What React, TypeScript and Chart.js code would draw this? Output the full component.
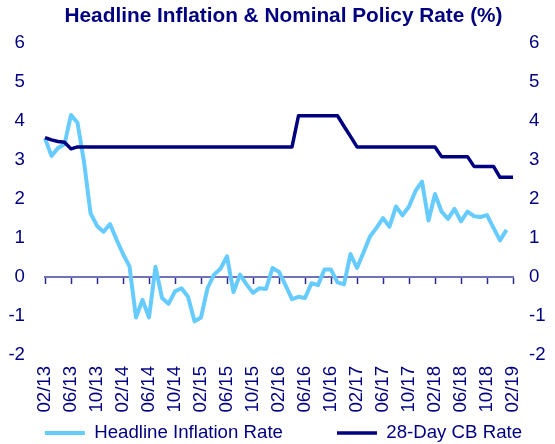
import React, { useEffect, useRef } from "react";
import { Chart, registerables } from "chart.js";

Chart.register(...registerables);

const months: string[] = [
  "02/13", "03/13", "04/13", "05/13", "06/13", "07/13", "08/13", "09/13", "10/13", "11/13", "12/13",
  "01/14", "02/14", "03/14", "04/14", "05/14", "06/14", "07/14", "08/14", "09/14", "10/14", "11/14", "12/14",
  "01/15", "02/15", "03/15", "04/15", "05/15", "06/15", "07/15", "08/15", "09/15", "10/15", "11/15", "12/15",
  "01/16", "02/16", "03/16", "04/16", "05/16", "06/16", "07/16", "08/16", "09/16", "10/16", "11/16", "12/16",
  "01/17", "02/17", "03/17", "04/17", "05/17", "06/17", "07/17", "08/17", "09/17", "10/17", "11/17", "12/17",
  "01/18", "02/18", "03/18", "04/18", "05/18", "06/18", "07/18", "08/18", "09/18", "10/18", "11/18", "12/18",
  "01/19", "02/19",
];

const inflation: number[] = [
  3.55, 3.1, 3.3, 3.4, 4.15, 3.95, 2.95, 1.63, 1.3, 1.15,
  1.35, 0.95, 0.58, 0.26, -1.05, -0.6, -1.05, 0.25, -0.55, -0.7,
  -0.38, -0.3, -0.52, -1.15, -1.05, -0.3, 0.05, 0.2, 0.52, -0.4,
  0.05, -0.2, -0.42, -0.3, -0.32, 0.22, 0.12, -0.22, -0.58, -0.52,
  -0.55, -0.17, -0.22, 0.18, 0.18, -0.15, -0.2, 0.58, 0.22, 0.62,
  1.03, 1.25, 1.5, 1.28, 1.8, 1.57, 1.8, 2.2, 2.44, 1.44,
  2.12, 1.67, 1.48, 1.74, 1.42, 1.67, 1.55, 1.53, 1.58, 1.25,
  0.93, 1.2,
];

const cbRate: number[] = [
  3.57, 3.51, 3.47, 3.45, 3.28,
  3.33, 3.33, 3.33, 3.33, 3.33, 3.33, 3.33, 3.33, 3.33, 3.33,
  3.33, 3.33, 3.33, 3.33, 3.33, 3.33, 3.33, 3.33, 3.33, 3.33,
  3.33, 3.33, 3.33, 3.33, 3.33, 3.33, 3.33, 3.33, 3.33, 3.33,
  3.33, 3.33, 3.33, 3.33,
  4.13, 4.13, 4.13, 4.13, 4.13, 4.13, 4.13,
  3.86, 3.6,
  3.33, 3.33, 3.33, 3.33, 3.33, 3.33, 3.33, 3.33, 3.33, 3.33, 3.33, 3.33, 3.33,
  3.08, 3.08, 3.08, 3.08, 3.08,
  2.83, 2.83, 2.83, 2.83,
  2.55, 2.55, 2.55,
];

const yMin = -2;
const yMax = 6;

const NAVY = "#000080";
const LIGHT = "#66CCFF";
const FONT = "'Liberation Sans', Arial, sans-serif";

export default function App() {
  const ref = useRef<HTMLCanvasElement | null>(null);

  useEffect(() => {
    if (!ref.current) return;
    const chart = new Chart(ref.current, {
      type: "line",
      data: {
        labels: months,
        datasets: [
          {
            label: "Headline Inflation Rate",
            data: inflation,
            borderColor: LIGHT,
            backgroundColor: LIGHT,
            borderWidth: 4,
            pointRadius: 0,
            tension: 0,
            borderJoinStyle: "round",
            xAxisID: "x",
            yAxisID: "y",
            order: 1,
          },
          {
            label: "28-Day CB Rate",
            data: cbRate,
            borderColor: NAVY,
            backgroundColor: NAVY,
            borderWidth: 3.5,
            pointRadius: 0,
            tension: 0,
            borderJoinStyle: "round",
            xAxisID: "x",
            yAxisID: "y",
            order: 0,
          },
        ],
      },
      options: {
        responsive: false,
        animation: false,
        layout: { padding: { left: -16.5, right: -28.5, top: 0, bottom: -8.3 } },
        plugins: {
          tooltip: { enabled: false },
          title: {
            display: true,
            text: "Headline Inflation & Nominal Policy Rate (%)",
            color: NAVY,
            font: { family: FONT, size: 20.8, weight: "bold", lineHeight: 1.2 },
            padding: { top: 3.5, bottom: 14.5 },
          },
          legend: {
            position: "bottom",
            labels: {
              usePointStyle: true,
              pointStyle: "line",
              pointStyleWidth: 40,
              boxHeight: 18,
              padding: 54,
              color: NAVY,
              font: { family: FONT, size: 18.67 },
              sort: (a: any, b: any) => a.datasetIndex - b.datasetIndex,
            },
          },
        },
        scales: {
          x: {
            type: "category",
            axis: "x",
            position: { y: 0 } as any,
            offset: false,
            grid: {
              display: true,
              drawOnChartArea: false,
              drawTicks: true,
              tickLength: 6,
              tickWidth: 1.5,
              tickColor: (ctx: any) => (ctx.index % 4 === 0 ? "#2B2B8C" : "rgba(0,0,0,0)"),
            },
            border: { display: true, color: "#7272B8", width: 2 },
            ticks: { display: false, autoSkip: false },
          },
          xLabels: {
            type: "category",
            axis: "x",
            position: { y: yMin } as any,
            offset: false,
            grid: { display: false, drawTicks: false },
            border: { display: false },
            ticks: {
              autoSkip: false,
              minRotation: 90,
              maxRotation: 90,
              padding: 11.5,
              color: NAVY,
              font: { family: FONT, size: 18.67 },
              callback: (_v: any, i: number) => (i % 4 === 0 ? months[i] : ""),
            },
          },
          xPad: {
            type: "category",
            axis: "x",
            position: "bottom",
            offset: false,
            grid: { display: false, drawTicks: false },
            border: { display: false },
            ticks: { display: false },
            afterFit: (s: any) => {
              s.height = 15.2;
            },
          },
          y: {
            type: "linear",
            axis: "y",
            position: "left",
            min: yMin,
            max: yMax,
            grid: { display: false, drawTicks: false },
            border: { display: false },
            ticks: {
              stepSize: 1,
              padding: 20,
              color: NAVY,
              font: { family: FONT, size: 18.67 },
            },
            afterFit: (s: any) => {
              s.width = 61.5;
            },
          },
          y2: {
            type: "linear",
            axis: "y",
            position: "right",
            min: yMin,
            max: yMax,
            grid: { display: false, drawTicks: false },
            border: { display: false },
            ticks: {
              stepSize: 1,
              padding: 16,
              color: NAVY,
              font: { family: FONT, size: 18.67 },
            },
            afterFit: (s: any) => {
              s.width = 70.5;
            },
          },
        },
      } as any,
    });
    return () => chart.destroy();
  }, []);

  return (
    <div style={{ position: "fixed", left: 0, top: 0, width: 555, height: 444, background: "#fff" }}>
      <canvas ref={ref} width={555} height={444} style={{ display: "block", width: 555, height: 444 }} />
    </div>
  );
}
